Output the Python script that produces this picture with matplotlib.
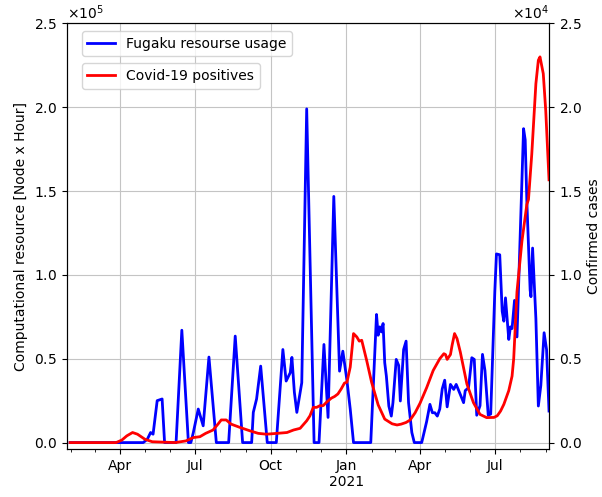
import numpy as np
import pandas as pd
import matplotlib
matplotlib.use("Agg")
import matplotlib.pyplot as plt
import matplotlib.dates as mdates
from matplotlib.ticker import FuncFormatter

# Fugaku resource usage (Node x Hour)
fugaku_dates = [
    "2020-01-31", "2020-04-29", "2020-05-04", "2020-05-08", "2020-05-11", "2020-05-16",
    "2020-05-22", "2020-05-25", "2020-06-08", "2020-06-15", "2020-06-23", "2020-06-26",
    "2020-06-29", "2020-07-05", "2020-07-11", "2020-07-18", "2020-07-27", "2020-08-11",
    "2020-08-19", "2020-08-28", "2020-09-08", "2020-09-10", "2020-09-14", "2020-09-19",
    "2020-09-27", "2020-10-08", "2020-10-16", "2020-10-20", "2020-10-25", "2020-10-27",
    "2020-10-30", "2020-11-02", "2020-11-08", "2020-11-14", "2020-11-23", "2020-11-29",
    "2020-12-05", "2020-12-10", "2020-12-17", "2020-12-24", "2020-12-28", "2021-01-02",
    "2021-01-06", "2021-01-10", "2021-01-31", "2021-02-07", "2021-02-09", "2021-02-11",
    "2021-02-13", "2021-02-15", "2021-02-17", "2021-02-19", "2021-02-22", "2021-02-25",
    "2021-02-27", "2021-03-03", "2021-03-06", "2021-03-08", "2021-03-12", "2021-03-15",
    "2021-03-18", "2021-03-22", "2021-03-25", "2021-04-03", "2021-04-09", "2021-04-13",
    "2021-04-16", "2021-04-19", "2021-04-22", "2021-04-25", "2021-04-28", "2021-05-01",
    "2021-05-04", "2021-05-08", "2021-05-12", "2021-05-15", "2021-05-20", "2021-05-24",
    "2021-05-26", "2021-05-30", "2021-06-03", "2021-06-06", "2021-06-09", "2021-06-13",
    "2021-06-16", "2021-06-19", "2021-06-23", "2021-06-26", "2021-07-01", "2021-07-03",
    "2021-07-07", "2021-07-10", "2021-07-12", "2021-07-14", "2021-07-18", "2021-07-20",
    "2021-07-22", "2021-07-25", "2021-07-28", "2021-08-05", "2021-08-07", "2021-08-09",
    "2021-08-13", "2021-08-14", "2021-08-16", "2021-08-20", "2021-08-23", "2021-08-26",
    "2021-08-30", "2021-09-02", "2021-09-05",
]
fugaku_usage = [
    0, 0, 2000, 6000, 5000, 25000,
    26000, 0, 0, 67000, 0, 0,
    6000, 20000, 10000, 51000, 0, 0,
    63500, 0, 0, 18000, 26000, 45600,
    0, 0, 55500, 36700, 41700, 50800,
    30000, 18000, 35700, 199000, 0, 0,
    58500, 15000, 146800, 42600, 54500, 37000,
    20000, 0, 0, 76400, 64000, 69000,
    66000, 71000, 47600, 39600, 21800, 15800,
    23800, 49600, 46000, 24800, 55500, 60500,
    23800, 6000, 0, 0, 12500, 22800,
    17800, 17800, 15800, 20000, 32000, 37200,
    21300, 34700, 31700, 34700, 28700, 23800,
    31000, 32700, 50600, 49600, 16300, 22000,
    52600, 43000, 16300, 17000, 90000, 112500,
    112000, 78300, 72400, 86300, 61500, 69000,
    68000, 84800, 63000, 187200, 180500, 144000,
    91000, 87000, 116000, 74000, 21800, 34000,
    65500, 55500, 18800,
]

# Covid-19 confirmed cases
covid_dates = [
    "2020-01-31", "2020-03-27", "2020-04-03", "2020-04-09", "2020-04-16", "2020-04-22",
    "2020-05-01", "2020-05-10", "2020-06-07", "2020-06-20", "2020-06-29", "2020-07-07",
    "2020-07-14", "2020-07-23", "2020-07-29", "2020-08-02", "2020-08-08", "2020-08-14",
    "2020-08-25", "2020-09-06", "2020-09-16", "2020-09-26", "2020-10-09", "2020-10-21",
    "2020-10-29", "2020-11-06", "2020-11-14", "2020-11-18", "2020-11-22", "2020-11-26",
    "2020-11-30", "2020-12-04", "2020-12-08", "2020-12-14", "2020-12-18", "2020-12-22",
    "2020-12-26", "2020-12-30", "2021-01-02", "2021-01-06", "2021-01-10", "2021-01-14",
    "2021-01-17", "2021-01-20", "2021-01-26", "2021-02-01", "2021-02-09", "2021-02-17",
    "2021-02-26", "2021-03-04", "2021-03-09", "2021-03-15", "2021-03-20", "2021-03-26",
    "2021-04-01", "2021-04-09", "2021-04-17", "2021-04-25", "2021-04-30", "2021-05-02",
    "2021-05-04", "2021-05-08", "2021-05-10", "2021-05-13", "2021-05-16", "2021-05-20",
    "2021-05-28", "2021-06-05", "2021-06-13", "2021-06-21", "2021-06-30", "2021-07-04",
    "2021-07-08", "2021-07-12", "2021-07-18", "2021-07-22", "2021-07-24", "2021-07-28",
    "2021-08-03", "2021-08-09", "2021-08-11", "2021-08-15", "2021-08-20", "2021-08-23",
    "2021-08-25", "2021-08-29", "2021-09-01", "2021-09-05",
]
covid_cases = [
    0, 0, 150, 400, 600, 500,
    200, 50, 0, 100, 300, 350,
    550, 750, 1100, 1350, 1350, 1100,
    900, 700, 550, 500, 550, 600,
    750, 850, 1300, 1600, 2100, 2100,
    2200, 2200, 2400, 2650, 2750, 2900,
    3200, 3550, 3600, 4500, 6500, 6300,
    6050, 6100, 4900, 3600, 2250, 1400,
    1120, 1050, 1100, 1200, 1350, 1780,
    2350, 3270, 4300, 5000, 5300, 5250,
    4960, 5250, 5800, 6500, 6200, 5400,
    3500, 2380, 1680, 1490, 1500, 1600,
    1880, 2280, 3100, 3960, 5000, 9000,
    12000, 14200, 14500, 17200, 21400, 22800,
    23000, 22000, 19800, 15670,
]

fig = plt.figure(figsize=(6.02, 4.97), dpi=100)
ax = fig.add_axes([0.111, 0.096, 0.801, 0.857])
ax2 = ax.twinx()

ax.plot(pd.to_datetime(fugaku_dates), fugaku_usage, color="blue", lw=2,
        label="Fugaku resourse usage")
ax2.plot(pd.to_datetime(covid_dates), covid_cases, color="red", lw=2,
         label="Covid-19 positives")

ax.set_xlim(pd.Timestamp("2020-01-27"), pd.Timestamp("2021-09-05"))
ax.set_ylim(-4000, 250000)
ax2.set_ylim(-400, 25000)


def date_label(x, pos=None):
    d = mdates.num2date(x)
    if d.month == 1:
        return d.strftime("%b\n%Y")
    return d.strftime("%b")


ax.xaxis.set_major_locator(mdates.MonthLocator(bymonth=[1, 4, 7, 10]))
ax.xaxis.set_minor_locator(mdates.MonthLocator())
ax.xaxis.set_major_formatter(FuncFormatter(date_label))

ax.set_yticks(np.arange(0, 250001, 50000))
ax2.set_yticks(np.arange(0, 25001, 5000))
ax.ticklabel_format(axis="y", style="sci", scilimits=(0, 0), useMathText=True)
ax2.ticklabel_format(axis="y", style="sci", scilimits=(0, 0), useMathText=True)

ax.grid(True, color="#c4c4c4")
ax.set_ylabel("Computational resource [Node x Hour]")
ax2.set_ylabel("Confirmed cases")

ax.legend(loc="upper left", bbox_to_anchor=(0.031, 0.982), borderaxespad=0)
ax2.legend(loc="upper left", bbox_to_anchor=(0.031, 0.906), borderaxespad=0)

plt.savefig("out.png", dpi=100)
